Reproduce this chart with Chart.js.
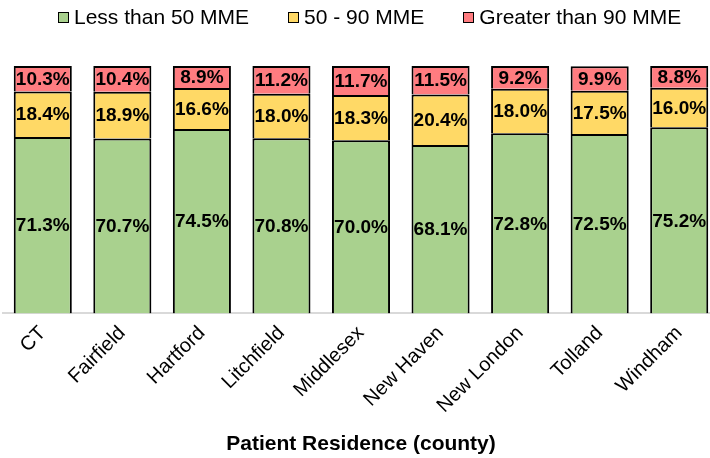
<!DOCTYPE html>
<html>
<head>
<meta charset="utf-8">
<script src="https://cdn.jsdelivr.net/npm/chart.js@4.4.0/dist/chart.umd.min.js"></script>
<style>
    html, body { margin: 0; padding: 0; overflow: hidden; background: #fff; }
    #wrap { position: relative; width: 720px; height: 458px; }
    #legend {
        position: absolute; top: 4px; left: 58px;
        display: flex; align-items: center;
        font: 21px "Liberation Sans", Arial, sans-serif; color: #000;
        white-space: nowrap; line-height: 26px;
    }
    #legend .item { display: flex; align-items: center; margin-right: 39px; }
    #legend .box { width: 9px; height: 9px; border: 1px solid #000; margin-right: 5px; }
</style>
</head>
<body>
<div id="wrap">
    <div id="legend"></div>
    <canvas id="mmeChart"></canvas>
</div>
<script>

const counties = ['CT', 'Fairfield', 'Hartford', 'Litchfield', 'Middlesex', 'New Haven', 'New London', 'Tolland', 'Windham'];
const lessThan50 = [71.3, 70.7, 74.5, 70.8, 70.0, 68.1, 72.8, 72.5, 75.2];
const from50to90 = [18.4, 18.9, 16.6, 18.0, 18.3, 20.4, 18.0, 17.5, 16.0];
const over90 = [10.3, 10.4, 8.9, 11.2, 11.7, 11.5, 9.2, 9.9, 8.8];

const colors = {
    green: '#a9d18e',
    yellow: '#ffd966',
    red: '#ff7c80',
    border: '#000000',
    axis: '#d9d9d9'
};

const fontFamily = '"Liberation Sans", Arial, sans-serif';

// draws the percentage in the middle of each segment
const segmentLabels = {
    id: 'segmentLabels',
    afterDatasetsDraw(chart) {
        const ctx = chart.ctx;
        ctx.save();
        ctx.font = 'bold 19px ' + fontFamily;
        ctx.fillStyle = '#000';
        ctx.textAlign = 'center';
        ctx.textBaseline = 'middle';
        chart.data.datasets.forEach((ds, i) => {
            const meta = chart.getDatasetMeta(i);
            meta.data.forEach((bar, j) => {
                const y = (bar.y + bar.base) / 2;
                ctx.fillText(ds.data[j].toFixed(1) + '%', bar.x, y + 1);
            });
        });
        ctx.restore();
    }
};

function makeSet(label, data, color) {
    return {
        label: label,
        data: data,
        backgroundColor: color,
        borderColor: colors.border,
        borderWidth: 2,
        categoryPercentage: 1,
        barPercentage: 0.73
    };
}

const chart = new Chart(document.getElementById('mmeChart'), {
    type: 'bar',
    data: {
        labels: counties,
        datasets: [
            makeSet('Less than 50 MME', lessThan50, colors.green),
            makeSet('50 - 90 MME', from50to90, colors.yellow),
            makeSet('Greater than 90 MME', over90, colors.red)
        ]
    },
    options: {
        responsive: true,
        maintainAspectRatio: false,
        animation: false,
        layout: { padding: { left: 3, right: 1, top: 66, bottom: 1 } },
        plugins: {
            legend: { display: false },
            tooltip: { enabled: false }
        },
        scales: {
            x: {
                stacked: true,
                grid: { display: false },
                border: { display: true, color: colors.axis, width: 2 },
                ticks: {
                    color: '#000',
                    font: { size: 20, family: fontFamily },
                    maxRotation: 45,
                    minRotation: 45,
                    padding: 0
                },
                title: {
                    display: true,
                    text: 'Patient Residence (county)',
                    color: '#000',
                    font: { size: 21, weight: 'bold', family: fontFamily },
                    padding: { top: 14, bottom: 0 }
                }
            },
            y: {
                stacked: true,
                display: false,
                min: 0,
                max: 100
            }
        }
    },
    plugins: [segmentLabels]
});

// html legend built from the datasets
const legendEl = document.getElementById('legend');
chart.data.datasets.forEach(ds => {
    const item = document.createElement('div');
    item.className = 'item';
    const box = document.createElement('span');
    box.className = 'box';
    box.style.background = ds.backgroundColor;
    item.appendChild(box);
    item.appendChild(document.createTextNode(ds.label));
    legendEl.appendChild(item);
});
</script>
</body>
</html>
